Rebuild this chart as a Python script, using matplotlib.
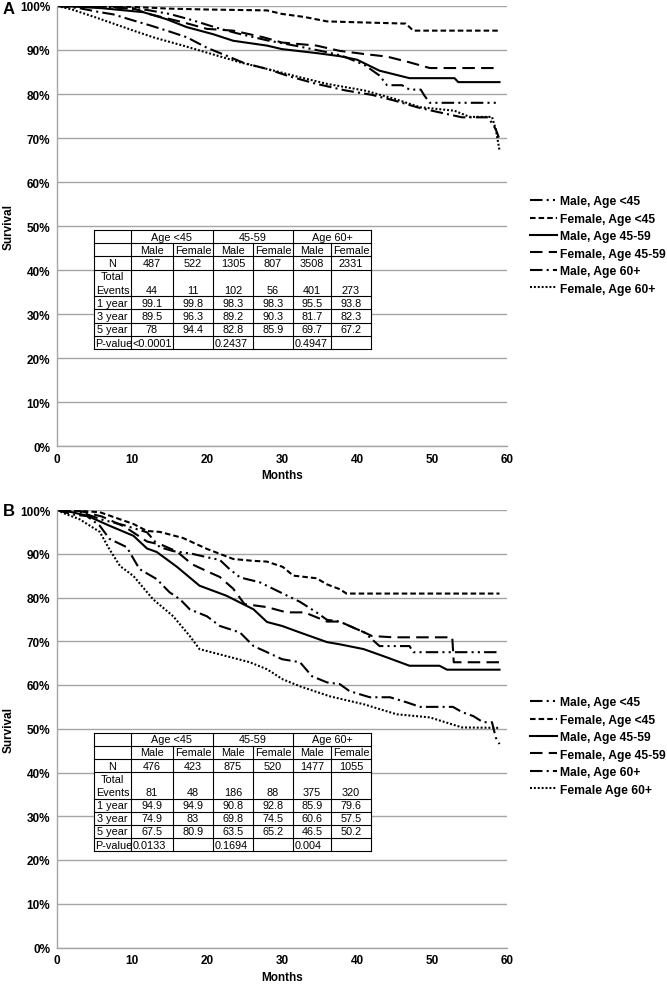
import numpy as np
import matplotlib.pyplot as plt
from matplotlib.patches import Rectangle

plt.rcParams['font.family'] = ['Liberation Sans', 'DejaVu Sans']
plt.rcParams['lines.scale_dashes'] = False

# ---- panel A curves (months, survival %) ----
a_m_lt45 = [0, 4, 8, 12, 15, 18, 21, 24, 28, 32, 36, 38, 41, 43, 44, 46, 47, 48.5, 49, 49.7, 59]
a_s_m_lt45 = [100, 100, 99.6, 99.1, 98.2, 96.8, 95.2, 93.8, 92.2, 90.9, 89.5, 88.7, 86.6, 84.2, 82, 82, 81, 81, 79.6, 78, 78]
a_m_f_lt45 = [0, 5, 10, 15, 20, 28, 30, 33, 36, 40, 46.5, 47.5, 59]
a_s_f_lt45 = [100, 100, 99.8, 99.4, 99.2, 99.0, 98.2, 97.5, 96.5, 96.3, 96.0, 94.4, 94.4]
a_m_m4559 = [0, 3, 6, 11.5, 14.6, 17.3, 20.8, 23.5, 28, 30, 34.6, 37.7, 40, 43, 47, 53, 53.5, 59]
a_s_m4559 = [100, 99.8, 99.5, 98.6, 97, 95.2, 93.6, 92.1, 91, 90.2, 89.3, 88.6, 87.8, 85.3, 83.6, 83.6, 82.7, 82.7]
a_m_f4559 = [0, 5, 10, 12, 16.8, 20, 23.5, 27.5, 30, 34.6, 37.7, 40.9, 44, 47, 49.7, 59]
a_s_f4559 = [100, 100, 99.6, 98.3, 96.3, 94.8, 94.4, 92.9, 91.7, 91, 89.8, 89.1, 88.5, 87.2, 85.9, 85.9]
a_m_m60 = [0, 3, 5.7, 7.5, 10, 12.4, 15, 17.3, 20, 22.6, 25, 28, 31, 34.6, 38.5, 42, 45, 48, 50, 54, 57.5, 58.5, 59]
a_s_m60 = [100, 99.5, 98.6, 98.1, 96.8, 95.6, 94.2, 92.9, 90.5, 88.7, 87, 85.7, 84, 82.3, 80.8, 79.8, 78.5, 77, 76.2, 74.7, 74.7, 72, 69.7]
a_m_f60 = [0, 2, 5, 10.2, 13, 16.8, 20, 24.4, 28, 32.4, 36, 41, 45, 48.4, 53, 55, 58, 58.5, 59]
a_s_f60 = [100, 99.2, 97.5, 94.4, 92.8, 91, 89.4, 87.2, 85.7, 83.8, 82.3, 80.8, 78.9, 77, 76.2, 74.8, 74.8, 72, 67.2]

# ---- panel B curves ----
b_m_lt45 = [0, 3, 6, 9, 12, 13.7, 15.5, 18, 20, 21.7, 23, 24.4, 25.3, 27, 28.8, 32.4, 34.6, 36, 37.7, 39, 41, 43, 47, 47.5, 58.6]
b_s_m_lt45 = [100, 99.6, 97.8, 96.5, 94.9, 91.5, 90.6, 90, 89.2, 88.6, 86.5, 84.6, 84.2, 83.5, 82, 79, 76.6, 74.9, 74.5, 73.5, 72, 68.9, 68.9, 67.5, 67.5]
b_m_f_lt45 = [0, 3, 5.7, 10.2, 12, 13.7, 16.8, 20, 23.5, 26, 28, 30.1, 31.5, 34.6, 36, 37.7, 38.6, 59]
b_s_f_lt45 = [100, 99.8, 99.5, 96.8, 95.2, 95, 93.6, 91.1, 88.8, 88.4, 88.2, 87, 85, 84.4, 83, 81.9, 80.9, 80.9]
b_m_m4559 = [0, 2, 4, 7, 10.2, 12, 13.3, 16, 19, 22.6, 26.2, 28, 30, 32.4, 36, 37.7, 40.9, 44, 47, 51, 52, 59]
b_s_m4559 = [100, 99.5, 98.7, 96.4, 94.1, 91.2, 90.4, 87, 82.7, 80.4, 77.3, 74.4, 73.5, 72, 69.8, 69.3, 68.2, 66.3, 64.4, 64.4, 63.5, 63.5]
b_m_f4559 = [0, 3, 6, 9, 12, 14, 16, 18, 20, 21.7, 23.5, 25, 28, 30.6, 33, 36, 37.7, 39, 41, 42, 44.8, 52.7, 52.9, 59]
b_s_f4559 = [100, 99.8, 98.5, 96.2, 92.8, 92, 90.5, 87.6, 86, 84.7, 82, 78.5, 77.8, 76.6, 76.6, 74.5, 74.5, 73.5, 72, 71.2, 70.9, 70.9, 65.2, 65.2]
b_m_m60 = [0, 2, 4, 5.7, 7, 9.3, 11, 13.3, 15, 16.4, 17.7, 20, 21.7, 24.4, 26.2, 28, 30, 32.4, 34, 36, 37.7, 39, 41.7, 44.4, 46.7, 48.4, 52.8, 54, 55.5, 56.8, 58, 58.5, 59]
b_s_m60 = [100, 99, 98.6, 96.4, 93.4, 91.5, 86.5, 84.2, 81.2, 79.6, 77.3, 75.7, 73.5, 72, 68.9, 67.5, 65.9, 65.2, 62, 60.6, 60.2, 58.6, 57.2, 57.2, 56, 55, 55, 53.8, 52.9, 51.5, 51.5, 48, 46.5]
b_m_f60 = [0, 1, 3, 5.7, 7, 8.4, 10.2, 12.8, 15.5, 17.7, 19, 22.6, 25.7, 28, 30.1, 32.4, 36.4, 40.9, 45.3, 49.7, 54, 59]
b_s_f60 = [100, 99.2, 97.9, 95, 91, 87.2, 84.9, 79.6, 75.7, 71.2, 68.2, 66.6, 65.2, 63.6, 61.3, 59.7, 57.4, 55.6, 53.3, 52.6, 50.3, 50.2]

labels_a = ["Male, Age <45", "Female, Age <45", "Male, Age 45-59", "Female, Age 45-59", "Male, Age 60+", "Female, Age 60+"]
labels_b = ["Male, Age <45", "Female, Age <45", "Male, Age 45-59", "Female, Age 45-59", "Male, Age 60+", "Female Age 60+"]

# ---- tables ----
groups = ["Age <45", "45-59", "Age 60+"]
a_n = [487, 522, 1305, 807, 3508, 2331]
a_events = [44, 11, 102, 56, 401, 273]
a_yr1 = [99.1, 99.8, 98.3, 98.3, 95.5, 93.8]
a_yr3 = [89.5, 96.3, 89.2, 90.3, 81.7, 82.3]
a_yr5 = [78, 94.4, 82.8, 85.9, 69.7, 67.2]
a_p = ["<0.0001", "0.2437", "0.4947"]

b_n = [476, 423, 875, 520, 1477, 1055]
b_events = [81, 48, 186, 88, 375, 320]
b_yr1 = [94.9, 94.9, 90.8, 92.8, 85.9, 79.6]
b_yr3 = [74.9, 83, 69.8, 74.5, 60.6, 57.5]
b_yr5 = [67.5, 80.9, 63.5, 65.2, 46.5, 50.2]
b_p = ["0.0133", "0.1694", "0.004"]

styles = [(0, (9, 3, 1.5, 3, 1.5, 3)), (0, (4, 2.2)), '-', (0, (9, 4.5)),
          (0, (9, 3, 1.5, 3)), (0, (1.4, 1.4))]

W, H = 667, 987
fig = plt.figure(figsize=(W / 100, H / 100), dpi=100)
grid_col = '#a5a5a5'
tfs = 7.8


def draw_table(ax, n, events, yr1, yr3, yr5, pvals):
    tr = ax.transAxes
    x = [v / 450 for v in [37, 74, 116, 156, 196, 236, 274, 314]]
    top, unit = 0.491, 0.0301
    heights = [1, 1, 1, 2, 1, 1, 1, 1]
    e = top - unit * np.concatenate([[0], np.cumsum(heights)])
    ax.add_patch(Rectangle((x[0], e[-1]), x[-1] - x[0], e[0] - e[-1], transform=tr,
                           facecolor='white', edgecolor='none', zorder=3))
    kw = dict(color='black', lw=0.8, transform=tr, zorder=4, clip_on=False)
    for yv in e:
        ax.plot([x[0], x[-1]], [yv, yv], **kw)
    for i, xv in enumerate(x):
        yt = e[0] if i in (0, 1, 3, 5, 7) else e[1]
        ax.plot([xv, xv], [yt, e[-1]], **kw)
    tk = dict(transform=tr, fontsize=tfs, zorder=5, va='center')

    def mid(r):
        return (e[r] + e[r + 1]) / 2

    for g, name in enumerate(groups):
        ax.text((x[1 + 2 * g] + x[3 + 2 * g]) / 2, mid(0), name, ha='center', **tk)
    for c in range(6):
        xc = (x[c + 1] + x[c + 2]) / 2
        ax.text(xc, mid(1), "Male" if c % 2 == 0 else "Female", ha='center', **tk)
        ax.text(xc, mid(2), f"{n[c]}", ha='center', **tk)
        ax.text(xc, e[4] + unit / 2, f"{events[c]}", ha='center', **tk)
        ax.text(xc, mid(4), f"{yr1[c]:g}", ha='center', **tk)
        ax.text(xc, mid(5), f"{yr3[c]:g}", ha='center', **tk)
        ax.text(xc, mid(6), f"{yr5[c]:g}", ha='center', **tk)
    for g, pv in enumerate(pvals):
        ax.text(x[1 + 2 * g] + 0.003, mid(7), pv, ha='left', **tk)
    lx = (x[0] + x[1]) / 2
    ax.text(lx, mid(2), "N", ha='center', **tk)
    ax.text(lx, e[4] + 1.5 * unit, "Total", ha='center', **tk)
    ax.text(lx, e[4] + unit / 2, "Events", ha='center', **tk)
    ax.text(lx, mid(4), "1 year", ha='center', **tk)
    ax.text(lx, mid(5), "3 year", ha='center', **tk)
    ax.text(lx, mid(6), "5 year", ha='center', **tk)
    ax.text(x[0] + 0.002, mid(7), "P-value", ha='left', **tk)


def draw_panel(rect, curves, labels, table, letter, letter_y, leg_y):
    ax = fig.add_axes(rect)
    lines = []
    for (m, s), ls in zip(curves, styles):
        ln, = ax.plot(m, s, color='black', lw=1.5, linestyle=ls, zorder=2)
        lines.append(ln)
    draw_table(ax, *table)
    ax.set_xlim(0, 60)
    ax.set_ylim(0, 100)
    ax.set_xticks(range(0, 61, 10))
    ax.set_xticklabels([str(v) for v in range(0, 61, 10)], fontweight='bold', fontsize=8.5)
    ax.set_yticks(range(0, 101, 10))
    ax.set_yticklabels([f"{v}%" for v in range(0, 101, 10)], fontweight='bold', fontsize=8.5)
    ax.tick_params(length=0, pad=5)
    ax.grid(axis='y', color=grid_col, lw=1.0, zorder=0)
    ax.set_axisbelow(True)
    for sp in ['top', 'right']:
        ax.spines[sp].set_visible(False)
    for sp in ['left', 'bottom']:
        ax.spines[sp].set_color(grid_col)
        ax.spines[sp].set_linewidth(1.0)
    ax.set_xlabel("Months", fontweight='bold', fontsize=8.5, labelpad=3)
    ax.set_ylabel("Survival", fontweight='bold', fontsize=8.5, labelpad=4)
    fig.text(3 / W, 1 - letter_y / H, letter, fontsize=12, fontweight='bold', va='center', ha='left')
    fig.legend(lines, labels, loc='center left', bbox_to_anchor=(530 / W, 1 - leg_y / H),
               frameon=False, prop={'weight': 'bold', 'size': 8.7}, handlelength=2.2,
               handletextpad=0.25, labelspacing=0.45, borderpad=0, borderaxespad=0)
    return ax


curves_a = [(a_m_lt45, a_s_m_lt45), (a_m_f_lt45, a_s_f_lt45), (a_m_m4559, a_s_m4559),
            (a_m_f4559, a_s_f4559), (a_m_m60, a_s_m60), (a_m_f60, a_s_f60)]
curves_b = [(b_m_lt45, b_s_m_lt45), (b_m_f_lt45, b_s_f_lt45), (b_m_m4559, b_s_m4559),
            (b_m_f4559, b_s_f4559), (b_m_m60, b_s_m60), (b_m_f60, b_s_f60)]

draw_panel([57 / W, 1 - 447 / H, 450 / W, 440 / H], curves_a, labels_a,
           (a_n, a_events, a_yr1, a_yr3, a_yr5, a_p), "A", 10, 246)
draw_panel([57 / W, 1 - 948.5 / H, 450 / W, 437.5 / H], curves_b, labels_b,
           (b_n, b_events, b_yr1, b_yr3, b_yr5, b_p), "B", 512, 747)

fig.savefig("out.png", dpi=100)
